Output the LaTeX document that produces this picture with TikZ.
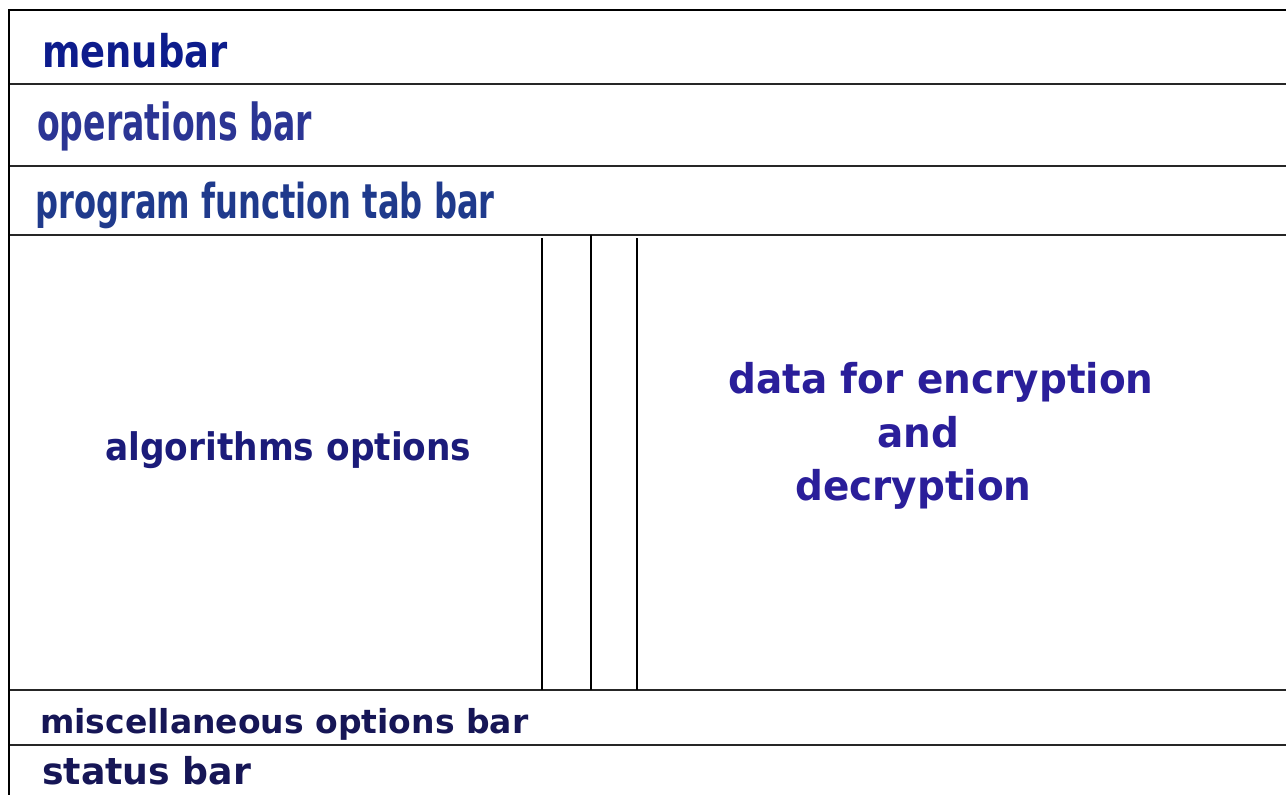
\documentclass[tikz,border=0pt]{standalone}
\usepackage{fontspec}
\usepackage{graphicx}
\usepackage{xcolor}
\usepackage{tikz}
\setsansfont{DejaVu Sans}
\definecolor{menublue}{HTML}{0D1C8C}
\definecolor{opsblue}{HTML}{2B3594}
\definecolor{tabblue}{HTML}{1F3A8C}
\definecolor{algblue}{HTML}{1B1B7A}
\definecolor{datablue}{HTML}{2A1E9A}
\definecolor{navy}{HTML}{161656}

\begin{document}
\begin{tikzpicture}[
    x=1pt, y=-1pt,
    lbl/.style={anchor=base west, inner sep=0pt, font=\sffamily\bfseries},
    frame/.style={line width=2.5pt, black},
    sep/.style={line width=1.6pt, black!85},
    col/.style={line width=1.4pt, black},
]
    \useasboundingbox (0,0) rectangle (1286,795);

    % Frame corners
    \coordinate (tl) at (9,10);
    \coordinate (bl) at (9,795);
    \coordinate (tr) at (1286,10);

    % Bar separators
    \coordinate (s1l) at (10,84);   \coordinate (s1r) at (1286,84);
    \coordinate (s2l) at (10,166);  \coordinate (s2r) at (1286,166);
    \coordinate (s3l) at (10,235);  \coordinate (s3r) at (1286,235);
    \coordinate (s4l) at (10,690);  \coordinate (s4r) at (1286,690);
    \coordinate (s5l) at (10,745);  \coordinate (s5r) at (1286,745);

    % Splitter columns
    \coordinate (c1t) at (542,238); \coordinate (c1b) at (542,690);
    \coordinate (c2t) at (591,235); \coordinate (c2b) at (591,690);
    \coordinate (c3t) at (637,238); \coordinate (c3b) at (637,690);

    \draw[frame] (bl) -- (tl) -- (tr);
    \draw[sep] (s1l) -- (s1r);
    \draw[sep] (s2l) -- (s2r);
    \draw[sep] (s3l) -- (s3r);
    \draw[sep] (s4l) -- (s4r);
    \draw[sep] (s5l) -- (s5r);
    \draw[col] (c1t) -- (c1b);
    \draw[col] (c2t) -- (c2b);
    \draw[col] (c3t) -- (c3b);

    % Labels
    \node[lbl, text=menublue, font=\sffamily\bfseries\fontsize{45}{54}\selectfont] (menu) at (42,67)
        {\scalebox{0.82}[1]{menubar}};
    \node[lbl, text=opsblue, font=\sffamily\bfseries\fontsize{51}{60}\selectfont] (ops) at (37,140)
        {\scalebox{0.65}[1]{operations bar}};
    \node[lbl, text=tabblue, font=\sffamily\bfseries\fontsize{48}{57}\selectfont] (tabs) at (35,218)
        {\scalebox{0.67}[1]{program function tab bar}};
    \node[lbl, text=algblue, font=\sffamily\bfseries\fontsize{38}{45}\selectfont] (alg) at (105,460)
        {\scalebox{0.905}[1]{algorithms options}};
    \node[lbl, text=datablue, font=\sffamily\bfseries\fontsize{41}{49}\selectfont] (data1) at (728,393)
        {\scalebox{0.95}[1]{data for encryption}};
    \node[lbl, text=datablue, font=\sffamily\bfseries\fontsize{41}{49}\selectfont] (data2) at (877,447)
        {\scalebox{0.95}[1]{and}};
    \node[lbl, text=datablue, font=\sffamily\bfseries\fontsize{41}{49}\selectfont] (data3) at (795,500)
        {\scalebox{0.95}[1]{decryption}};
    \node[lbl, text=navy, font=\sffamily\bfseries\fontsize{33}{40}\selectfont] (misc) at (40,733)
        {miscellaneous options bar};
    \node[lbl, text=navy, font=\sffamily\bfseries\fontsize{37}{44}\selectfont] (status) at (42,784)
        {\scalebox{0.98}[1]{status bar}};
\end{tikzpicture}
\end{document}
